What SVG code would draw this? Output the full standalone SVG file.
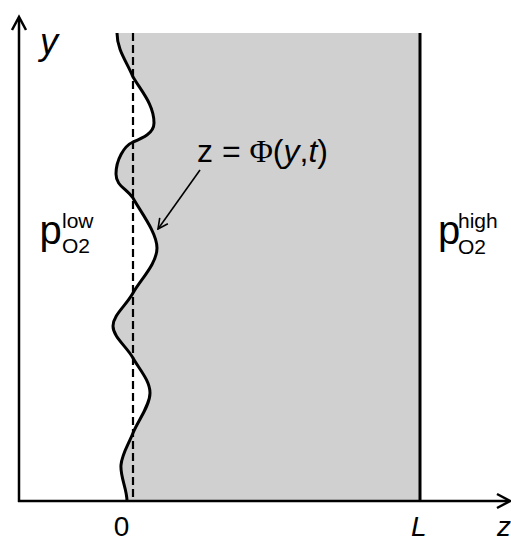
<svg xmlns="http://www.w3.org/2000/svg" width="511" height="543" viewBox="0 0 511 543">
<style>
.ax{stroke:#000;stroke-width:2.5;fill:none}
.head{stroke:#000;stroke-width:2.5;fill:none;stroke-linejoin:miter}
.curve{stroke:#000;stroke-width:3;fill:none}
.dash{stroke:#000;stroke-width:2.2;stroke-dasharray:8 4;fill:none}
.t{font-family:"Liberation Sans",Arial,sans-serif;fill:#000}
.it{font-style:italic}
</style>
<defs>
<marker id="ah" viewBox="0 0 12 12" refX="11" refY="6" markerWidth="12" markerHeight="12" markerUnits="userSpaceOnUse" orient="auto">
<path d="M1,1 L11,6 L1,11" stroke="#000" stroke-width="1.6" fill="none"/>
</marker>
</defs>
<g id="region">
<path fill="#d0d0d0" d="M117,33 C117,50 127,62 133,77 C142,92 154,105 154,123 C154,133 143,138 133,142 C124,146 116,160 116,174 C116,186 126,188 133,198 C140,211 157,232.5 157,248 C157,263.5 140.3,280 133,293 C125.7,306 113,315.2 113,326 C113,336.8 126.8,346.8 133,358 C139.2,369.2 150,380.5 150,393 C150,405.5 137.8,421 133,433 C128.2,445 122,453.7 121,465 C120,476.3 127,489 127,501 L420,501 L420,33 Z"/>
</g>
<g id="interface">
<path class="curve" d="M117,33 C117,50 127,62 133,77 C142,92 154,105 154,123 C154,133 143,138 133,142 C124,146 116,160 116,174 C116,186 126,188 133,198 C140,211 157,232.5 157,248 C157,263.5 140.3,280 133,293 C125.7,306 113,315.2 113,326 C113,336.8 126.8,346.8 133,358 C139.2,369.2 150,380.5 150,393 C150,405.5 137.8,421 133,433 C128.2,445 122,453.7 121,465 C120,476.3 127,489 127,501"/>
</g>
<g id="mean-line">
<line class="dash" x1="133" y1="33" x2="133" y2="501"/>
</g>
<g id="wall">
<line x1="420" y1="33" x2="420" y2="502" stroke="#000" stroke-width="3"/>
</g>
<g id="axes">
<line class="ax" x1="19" y1="502" x2="19" y2="18"/>
<path class="head" d="M12,30 L19,17 L26,30"/>
<line class="ax" x1="18" y1="501" x2="509" y2="501"/>
<path class="head" d="M497,494 L510,501 L497,508"/>
</g>
<g id="connectors">
<line x1="200" y1="170" x2="158" y2="229" stroke="#000" stroke-width="1.6" marker-end="url(#ah)"/>
</g>
<g id="labels">
<text class="t it" x="40" y="54" font-size="36">y</text>
<text class="t" x="39.5" y="244" font-size="40">p</text>
<text class="t" x="62" y="228" font-size="21">low</text>
<text class="t" x="62" y="253" font-size="21">O2</text>
<text class="t" x="438" y="244" font-size="40">p</text>
<text class="t" x="458" y="228" font-size="21">high</text>
<text class="t" x="458" y="254" font-size="21">O2</text>
<text class="t" x="197" y="162" font-size="32">z = <tspan font-family="'Liberation Serif',serif">Φ</tspan>(<tspan class="it">y</tspan>,<tspan class="it">t</tspan>)</text>
<text class="t" x="121.5" y="536" font-size="28" text-anchor="middle">0</text>
<text class="t it" x="411" y="536" font-size="28">L</text>
<text class="t it" x="497" y="536" font-size="28">z</text>
</g>
</svg>
